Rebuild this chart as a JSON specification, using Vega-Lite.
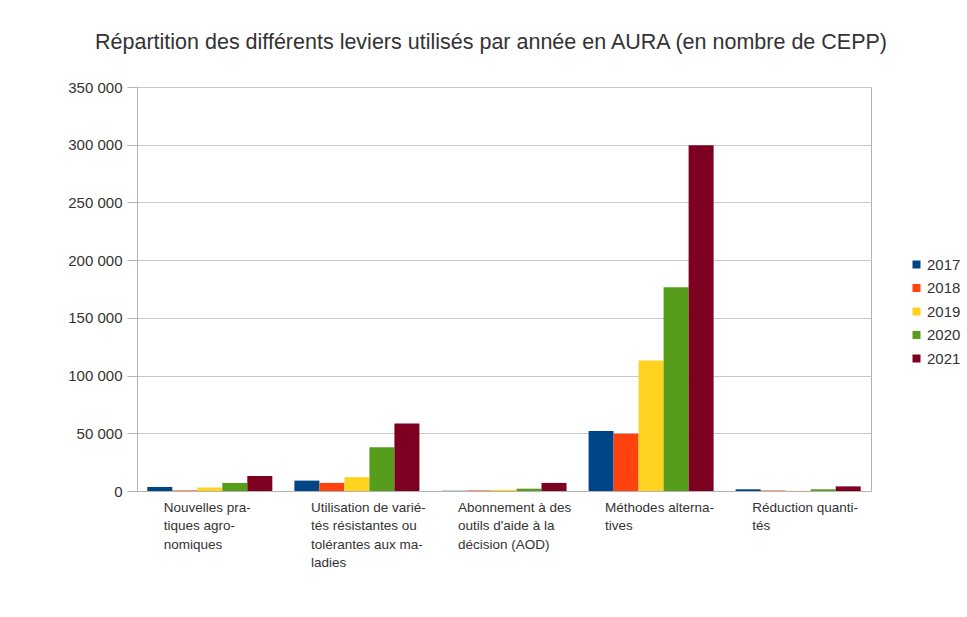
{
  "$schema": "https://vega.github.io/schema/vega-lite/v6.json",
  "width": 734,
  "height": 404,
  "autosize": {"type": "none"},
  "padding": {"left": 137, "top": 87, "right": 96, "bottom": 126},
  "background": "white",
  "title": {
    "text": "Répartition des différents leviers utilisés par année en AURA (en nombre de CEPP)",
    "font": "Liberation Sans",
    "fontSize": 21.5,
    "fontWeight": "normal",
    "color": "#333333",
    "anchor": "middle",
    "dx": -13,
    "offset": 27
  },
  "data": {
    "values": [
      {"levier": "Nouvelles pratiques agronomiques", "annee": "2017", "cepp": 3500},
      {"levier": "Nouvelles pratiques agronomiques", "annee": "2018", "cepp": 500},
      {"levier": "Nouvelles pratiques agronomiques", "annee": "2019", "cepp": 3000},
      {"levier": "Nouvelles pratiques agronomiques", "annee": "2020", "cepp": 7000},
      {"levier": "Nouvelles pratiques agronomiques", "annee": "2021", "cepp": 13000},
      {"levier": "Utilisation de variétés résistantes ou tolérantes aux maladies", "annee": "2017", "cepp": 9000},
      {"levier": "Utilisation de variétés résistantes ou tolérantes aux maladies", "annee": "2018", "cepp": 7000},
      {"levier": "Utilisation de variétés résistantes ou tolérantes aux maladies", "annee": "2019", "cepp": 12000},
      {"levier": "Utilisation de variétés résistantes ou tolérantes aux maladies", "annee": "2020", "cepp": 38000},
      {"levier": "Utilisation de variétés résistantes ou tolérantes aux maladies", "annee": "2021", "cepp": 58500},
      {"levier": "Abonnement à des outils d'aide à la décision (AOD)", "annee": "2017", "cepp": 200},
      {"levier": "Abonnement à des outils d'aide à la décision (AOD)", "annee": "2018", "cepp": 500},
      {"levier": "Abonnement à des outils d'aide à la décision (AOD)", "annee": "2019", "cepp": 1000},
      {"levier": "Abonnement à des outils d'aide à la décision (AOD)", "annee": "2020", "cepp": 2000},
      {"levier": "Abonnement à des outils d'aide à la décision (AOD)", "annee": "2021", "cepp": 7000},
      {"levier": "Méthodes alternatives", "annee": "2017", "cepp": 52000},
      {"levier": "Méthodes alternatives", "annee": "2018", "cepp": 49500},
      {"levier": "Méthodes alternatives", "annee": "2019", "cepp": 113000},
      {"levier": "Méthodes alternatives", "annee": "2020", "cepp": 176500},
      {"levier": "Méthodes alternatives", "annee": "2021", "cepp": 299500},
      {"levier": "Réduction quantités", "annee": "2017", "cepp": 1500},
      {"levier": "Réduction quantités", "annee": "2018", "cepp": 500},
      {"levier": "Réduction quantités", "annee": "2019", "cepp": 300},
      {"levier": "Réduction quantités", "annee": "2020", "cepp": 1500},
      {"levier": "Réduction quantités", "annee": "2021", "cepp": 4000}
    ]
  },
  "mark": {"type": "bar"},
  "encoding": {
    "x": {
      "field": "levier",
      "type": "nominal",
      "sort": null,
      "title": null,
      "scale": {"paddingInner": 0.15, "paddingOuter": 0.07},
      "axis": {
        "labelAngle": 0,
        "labelAlign": "left",
        "labelBaseline": "top",
        "labelOffset": -46,
        "labelPadding": 9,
        "labelFont": "Liberation Sans",
        "labelFontSize": 13.5,
        "labelColor": "#333333",
        "labelLineHeight": 18.5,
        "labelLimit": 0,
        "ticks": false,
        "domainColor": "#b3b3b3",
        "labelExpr": "datum.label == 'Nouvelles pratiques agronomiques' ? ['Nouvelles pra-', 'tiques agro-', 'nomiques'] : datum.label == 'Utilisation de variétés résistantes ou tolérantes aux maladies' ? ['Utilisation de varié-', 'tés résistantes ou', 'tolérantes aux ma-', 'ladies'] : datum.label == \"Abonnement à des outils d'aide à la décision (AOD)\" ? ['Abonnement à des', \"outils d'aide à la\", 'décision (AOD)'] : datum.label == 'Méthodes alternatives' ? ['Méthodes alterna-', 'tives'] : ['Réduction quanti-', 'tés']"
      }
    },
    "xOffset": {"field": "annee", "type": "nominal", "scale": {"paddingInner": 0, "paddingOuter": 0}},
    "y": {
      "field": "cepp",
      "type": "quantitative",
      "title": null,
      "scale": {"domain": [0, 350000], "nice": false},
      "axis": {
        "values": [0, 50000, 100000, 150000, 200000, 250000, 300000, 350000],
        "labelExpr": "replace(format(datum.value, ','), ',', ' ')",
        "labelFont": "Liberation Sans",
        "labelFontSize": 15,
        "labelColor": "#333333",
        "labelPadding": 5,
        "ticks": true,
        "tickSize": 10,
        "tickColor": "#b3b3b3",
        "domainColor": "#b3b3b3",
        "gridColor": "#c8c8c8",
        "gridWidth": 1
      }
    },
    "color": {
      "field": "annee",
      "type": "nominal",
      "title": null,
      "scale": {
        "domain": ["2017", "2018", "2019", "2020", "2021"],
        "range": ["#004586", "#ff420e", "#ffd320", "#579d1c", "#7e0021"]
      },
      "legend": {
        "orient": "none",
        "legendX": 772,
        "legendY": 170,
        "symbolType": "square",
        "symbolSize": 64,
        "symbolStrokeWidth": 0,
        "labelFont": "Liberation Sans",
        "labelFontSize": 15,
        "labelColor": "#333333",
        "rowPadding": 7.5,
        "labelOffset": 3
      }
    }
  },
  "config": {
    "view": {"stroke": "#b3b3b3", "strokeWidth": 1}
  }
}
